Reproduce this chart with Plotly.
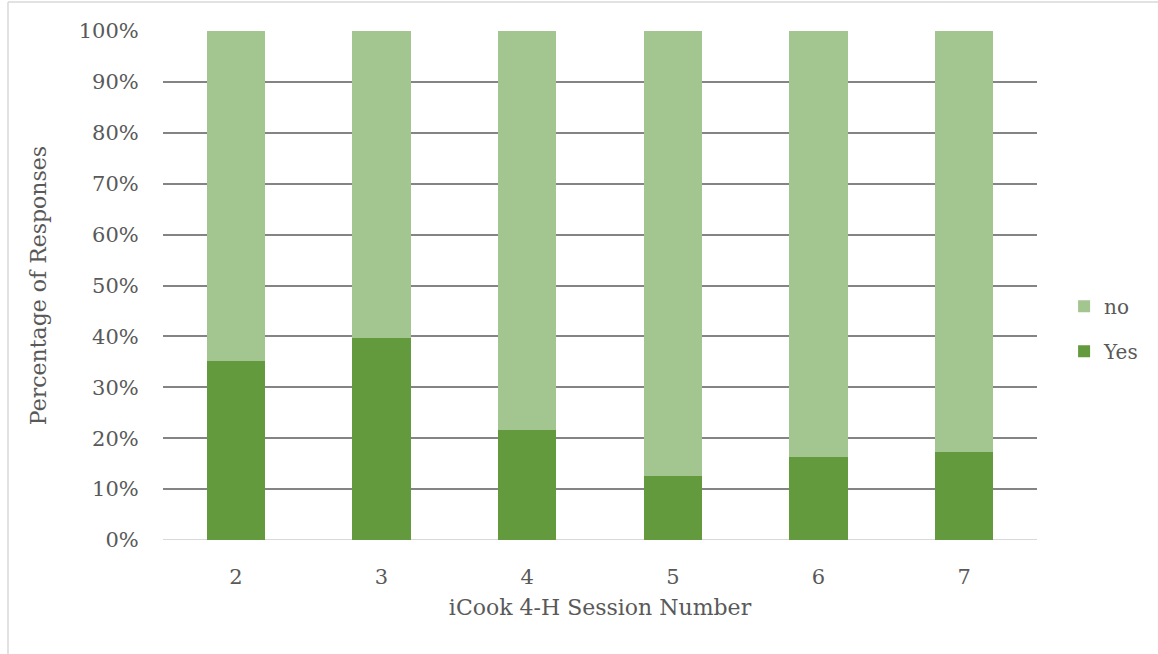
import plotly.graph_objects as go

# Share of responses per iCook 4-H session
sessions = ["2", "3", "4", "5", "6", "7"]
yes_share = [0.352, 0.397, 0.216, 0.125, 0.163, 0.172]
no_share = [1 - v for v in yes_share]

y_ticks = [0, 0.1, 0.2, 0.3, 0.4, 0.5, 0.6, 0.7, 0.8, 0.9, 1.0]
y_tick_labels = ["0%", "10%", "20%", "30%", "40%", "50%", "60%", "70%", "80%", "90%", "100%"]

dark_green = "#629A3D"
light_green = "#A3C590"
text_grey = "#595959"
font_family = "DejaVu Serif, serif"

fig = go.Figure()
fig.add_trace(go.Bar(x=sessions, y=yes_share, name="Yes", legendgroup="yes",
                     legendrank=2,
                     marker=dict(color=dark_green, line=dict(width=0))))
fig.add_trace(go.Bar(x=sessions, y=no_share, name="no", legendgroup="no",
                     legendrank=1,
                     marker=dict(color=light_green, line=dict(width=0))))

fig.update_layout(
    barmode="stack",
    bargap=0.6,
    width=1158, height=654,
    paper_bgcolor="white", plot_bgcolor="white",
    margin=dict(l=163, r=121, t=31, b=114, autoexpand=False),
    font=dict(family=font_family, size=21, color=text_grey),
    legend=dict(
        traceorder="grouped",
        tracegroupgap=16,
        x=1.031, xanchor="left",
        y=0.415, yanchor="middle",
        font=dict(size=20, color=text_grey),
        bgcolor="rgba(0,0,0,0)",
    ),
    xaxis=dict(
        type="category",
        showgrid=False,
        showline=False,
        ticks="outside", ticklen=18, tickcolor="rgba(0,0,0,0)",
        tickfont=dict(size=21, color=text_grey),
        title=dict(text="iCook 4-H Session Number", standoff=11,
                   font=dict(size=22, color=text_grey)),
    ),
    yaxis=dict(
        range=[0, 1],
        tickvals=y_ticks, ticktext=y_tick_labels,
        showgrid=True, gridcolor="#848484", gridwidth=1.5,
        zeroline=False, showline=False,
        ticks="outside", ticklen=19, tickcolor="rgba(0,0,0,0)",
        tickfont=dict(size=21, color=text_grey),
        title=dict(text="Percentage of Responses", standoff=26,
                   font=dict(size=22, color=text_grey)),
    ),
)

# light baseline along the category axis
fig.add_shape(type="line", xref="paper", yref="y", x0=0, x1=1, y0=0, y1=0,
              line=dict(color="#D9D9D9", width=2), layer="below")

# thin frame along the top and left edges of the canvas
fig.add_shape(type="line", xref="paper", yref="paper",
              x0=-155 / 874, x1=1.2, y0=1 + 29 / 509, y1=1 + 29 / 509,
              line=dict(color="#D9D9D9", width=1.5))
fig.add_shape(type="line", xref="paper", yref="paper",
              x0=-155 / 874, x1=-155 / 874, y0=1 + 29 / 509, y1=-0.3,
              line=dict(color="#D9D9D9", width=1.5))

fig.write_html("out.html")
